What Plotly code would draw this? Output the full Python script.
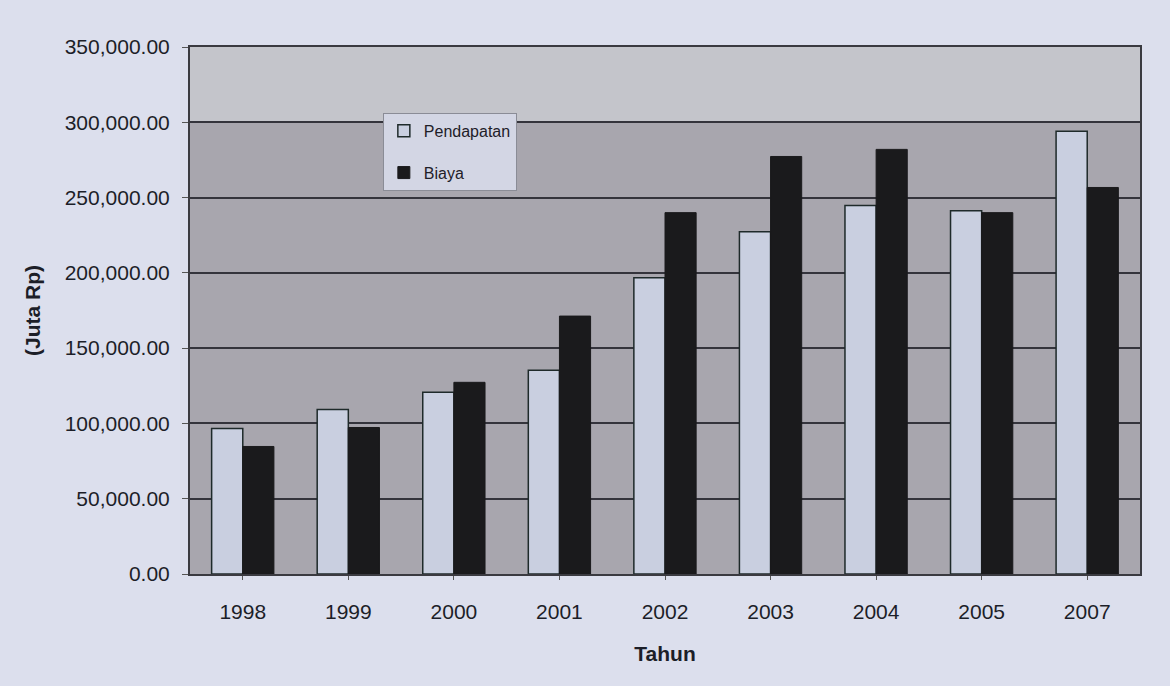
import plotly.graph_objects as go

years = ["1998", "1999", "2000", "2001", "2002", "2003", "2004", "2005", "2007"]
pendapatan = [96700, 109300, 120700, 135300, 196700, 227300, 244700, 241300, 294000]
biaya = [84700, 97300, 127300, 171300, 240000, 277300, 282000, 240000, 256700]
y_ticks = [0, 50000, 100000, 150000, 200000, 250000, 300000, 350000]

fig = go.Figure()
fig.add_trace(go.Bar(x=years, y=pendapatan, name="Pendapatan", legendgroup="p",
                     marker=dict(color="#c9cfe0", line=dict(color="#1e2a2a", width=1.5))))
fig.add_trace(go.Bar(x=years, y=biaya, name="Biaya", legendgroup="b",
                     marker=dict(color="#1a1a1c", line=dict(color="#1a1a1c", width=1))))

fig.add_shape(type="rect", xref="paper", yref="y", x0=0, x1=1, y0=300000, y1=350000,
              fillcolor="#c4c5cb", line=dict(width=0), layer="below")

font_family = "Liberation Sans, Arial, sans-serif"
fig.update_layout(
    width=1170, height=686,
    margin=dict(l=190, r=30, t=47, b=112),
    paper_bgcolor="#dcdfed",
    plot_bgcolor="#a8a6ae",
    barmode="group",
    bargap=0.41,
    bargroupgap=0,
    font=dict(family=font_family, color="#1c1e28"),
    legend=dict(x=0.203, y=0.875, xanchor="left", yanchor="top",
                bgcolor="#d3d6e4", bordercolor="#8a8c96", borderwidth=1,
                font=dict(size=16, color="#1e2028"), tracegroupgap=18,
                traceorder="grouped", itemwidth=30),
    showlegend=True,
)
fig.update_xaxes(
    showline=True, linecolor="#3a3a40", linewidth=2, mirror=True,
    tickfont=dict(size=21), ticks="outside", ticklen=4, tickcolor="#555",
    ticklabelstandoff=14,
    title=dict(text="<b>Tahun</b>", font=dict(size=21), standoff=24),
)
fig.update_yaxes(
    range=[0, 350000], tickvals=y_ticks, tickformat=",.2f",
    showgrid=True, gridcolor="#34343c", gridwidth=1.5,
    showline=True, linecolor="#3a3a40", linewidth=2, mirror=True,
    tickfont=dict(size=21), ticks="outside", ticklen=6, tickcolor="#555",
    ticklabelstandoff=8,
    title=dict(text="<b>(Juta Rp)</b>", font=dict(size=21), standoff=18),
    zeroline=False,
)

fig.write_html("out.html")
